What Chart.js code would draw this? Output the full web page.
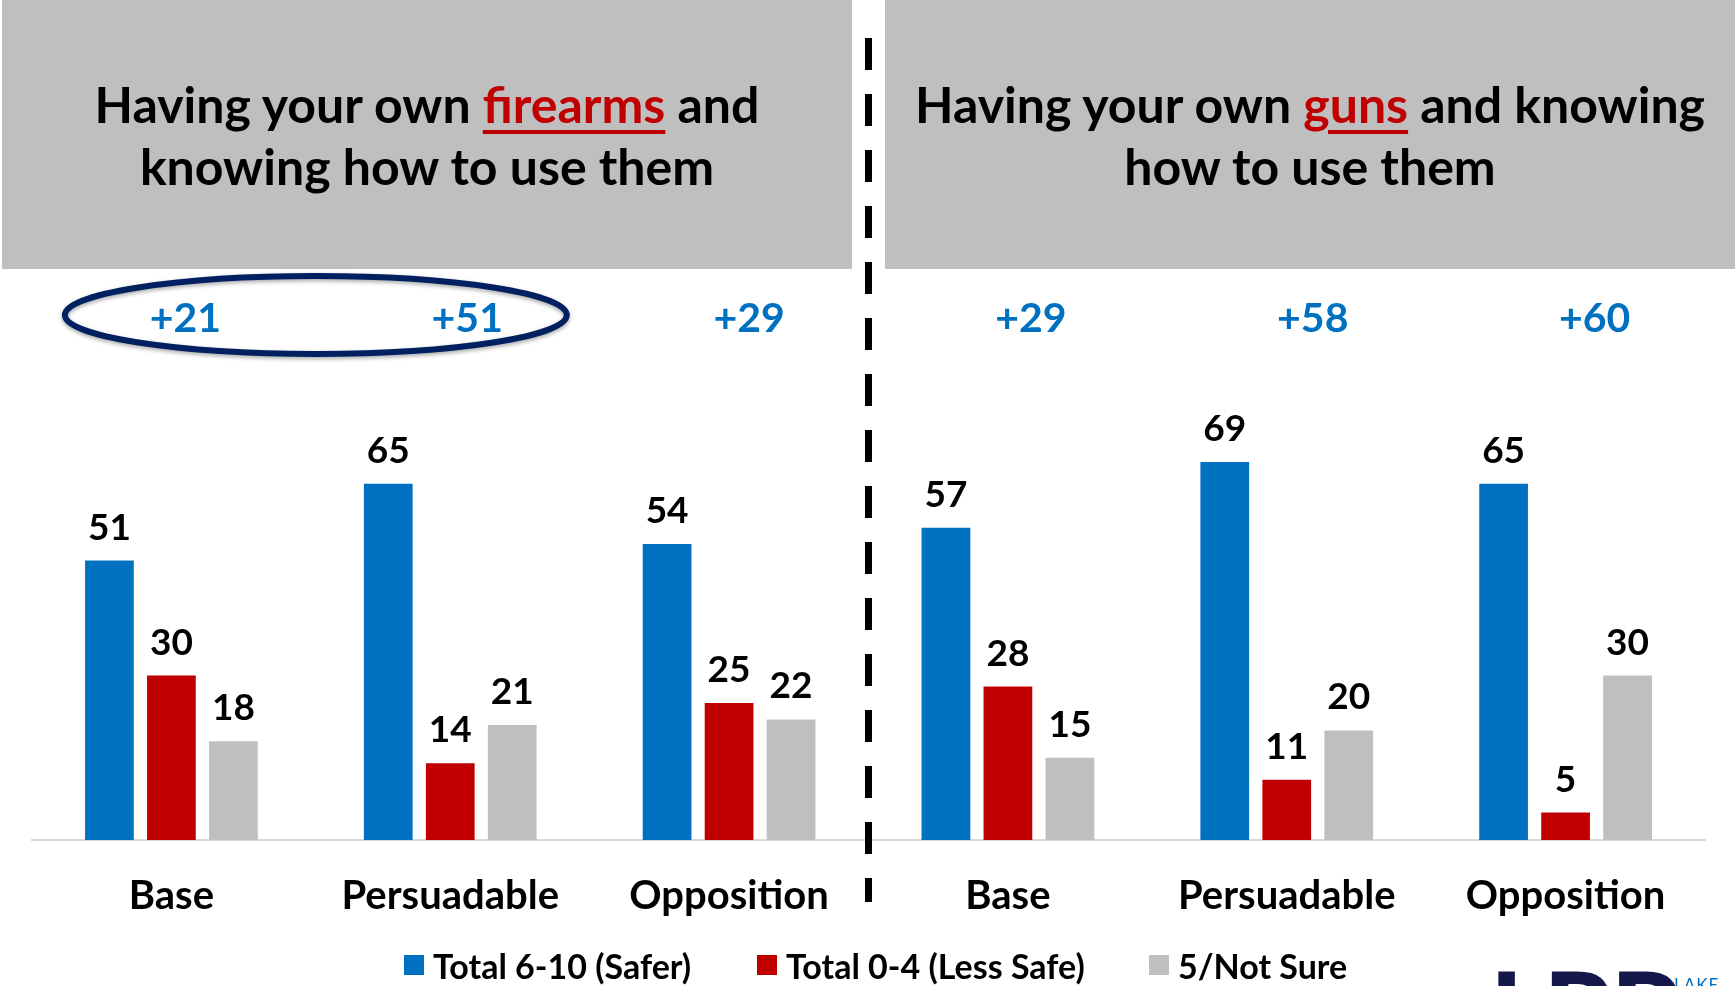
<!DOCTYPE html>
<html>
<head>
<meta charset="utf-8">
<script src="https://cdn.jsdelivr.net/npm/chart.js@4.4.1/dist/chart.umd.min.js"></script>
<style>
  body { margin: 0; width: 1735px; height: 986px; overflow: hidden; position: relative; background: #fff; font-family: Lato, sans-serif; }
  .head { position: absolute; top: 0; height: 269px; background: #BFBFBF; display: flex; align-items: center; justify-content: center;
          text-align: center; font-weight: 700; font-size: 50px; line-height: 62px; color: #000; }
  .head .hl { color: #C00000; text-decoration: underline; text-decoration-thickness: 4px; text-underline-offset: 7px; }
  #wrap { position: absolute; left: 0; top: 0; width: 1735px; height: 986px; }
  .legend { position: absolute; left: 0; top: 946px; width: 1735px; height: 38px; font-size: 34px; font-weight: 700; color: #000; }
  .legend .item { position: absolute; top: 0; height: 38px; display: flex; align-items: center; white-space: nowrap; }
  .legend .box { width: 20px; height: 20px; margin-right: 9px; }
  .logo { position: absolute; left: 1490px; top: 962px; width: 245px; height: 24px; overflow: hidden; }
  .logo .mark { position: absolute; left: 0; top: -8px; font-size: 110px; font-weight: 900; color: #14184A; letter-spacing: -4px; line-height: 1; }
  .logo .word { position: absolute; left: 184px; top: 12px; font-size: 17px; color: #0070C0; letter-spacing: 1px; }
</style>
</head>
<body>
<div class="head" style="left:2px; width:850px;">
  <div>Having your own <span class="hl">firearms</span> and<br>knowing how to use them</div>
</div>
<div class="head" style="left:885px; width:850px;">
  <div>Having your own <span class="hl">guns</span> and knowing<br>how to use them</div>
</div>
<div id="wrap"><canvas id="chart"></canvas></div>
<div class="legend" id="legend"></div>
<div class="logo"><span class="mark">LRP</span><span class="word">LAKE</span></div>
<script>
// survey groups, first three for "firearms" wording, last three for "guns"
const categories = ['Base', 'Persuadable', 'Opposition', 'Base', 'Persuadable', 'Opposition'];
const safer = [51, 65, 54, 57, 69, 65];
const lessSafe = [30, 14, 25, 28, 11, 5];
const notSure = [18, 21, 22, 15, 20, 30];
const seriesNames = ['Total 6-10 (Safer)', 'Total 0-4 (Less Safe)', '5/Not Sure'];

Chart.defaults.font.family = 'Lato, sans-serif';
Chart.defaults.font.weight = 'bold';

// value labels, net margins, the circled pair and the split line
const overlay = {
  id: 'overlay',
  afterDatasetsDraw(chart) {
    const ctx = chart.ctx;
    const x = chart.scales.x;
    ctx.save();

    ctx.font = 'bold 37px Lato, sans-serif';
    ctx.fillStyle = '#000';
    ctx.textAlign = 'center';
    ctx.textBaseline = 'alphabetic';
    chart.data.datasets.forEach((ds, i) => {
      chart.getDatasetMeta(i).data.forEach((bar, j) => {
        ctx.fillText(ds.data[j], bar.x, bar.y - 21);
      });
    });

    // net = safer minus less safe, set a little right of the group centre
    ctx.font = 'bold 41px Lato, sans-serif';
    ctx.fillStyle = '#0070C0';
    ctx.textBaseline = 'middle';
    categories.forEach((c, j) => {
      const net = safer[j] - lessSafe[j];
      ctx.fillText((net > 0 ? '+' : '') + net, x.getPixelForValue(j) + 14 + j * 3, 319);
    });

    const x0 = x.getPixelForValue(0), x1 = x.getPixelForValue(1);
    ctx.beginPath();
    ctx.ellipse((x0 + x1) / 2 + 5, 315, (x1 - x0) * 0.9, 39, 0, 0, Math.PI * 2);
    ctx.lineWidth = 6;
    ctx.strokeStyle = '#002060';
    ctx.shadowColor = 'rgba(0,0,0,0.35)';
    ctx.shadowBlur = 4;
    ctx.shadowOffsetY = 2;
    ctx.stroke();
    ctx.shadowColor = 'transparent';

    const xs = (x.getPixelForValue(2) + x.getPixelForValue(3)) / 2;
    ctx.beginPath();
    ctx.setLineDash([32, 24]);
    ctx.moveTo(xs, 38);
    ctx.lineTo(xs, 902);
    ctx.lineWidth = 7;
    ctx.strokeStyle = '#000';
    ctx.stroke();
    ctx.restore();
  }
};

const chart = new Chart(document.getElementById('chart'), {
  type: 'bar',
  data: {
    labels: categories,
    datasets: [
      { label: seriesNames[0], data: safer, backgroundColor: '#0070C0' },
      { label: seriesNames[1], data: lessSafe, backgroundColor: '#C00000' },
      { label: seriesNames[2], data: notSure, backgroundColor: '#BFBFBF' }
    ]
  },
  options: {
    responsive: true,
    maintainAspectRatio: false,
    animation: false,
    barPercentage: 0.786,
    categoryPercentage: 0.667,
    layout: { padding: { top: 292, left: 32, right: 30, bottom: 42 } },
    plugins: {
      tooltip: { enabled: false },
      legend: { display: false }
    },
    scales: {
      x: {
        grid: { display: false },
        border: { display: true, color: '#D9D9D9', width: 2 },
        ticks: { color: '#000', padding: 24, font: { size: 40, weight: 'bold' } }
      },
      y: { display: false, min: 0, max: 100 }
    }
  },
  plugins: [overlay]
});

// legend row under the axis
const legendLeft = [404, 757, 1149];
const legendEl = document.getElementById('legend');
chart.data.datasets.forEach((ds, i) => {
  const item = document.createElement('div');
  item.className = 'item';
  item.style.left = legendLeft[i] + 'px';
  const box = document.createElement('span');
  box.className = 'box';
  box.style.background = ds.backgroundColor;
  item.appendChild(box);
  item.appendChild(document.createTextNode(ds.label));
  legendEl.appendChild(item);
});
</script>
</body>
</html>
